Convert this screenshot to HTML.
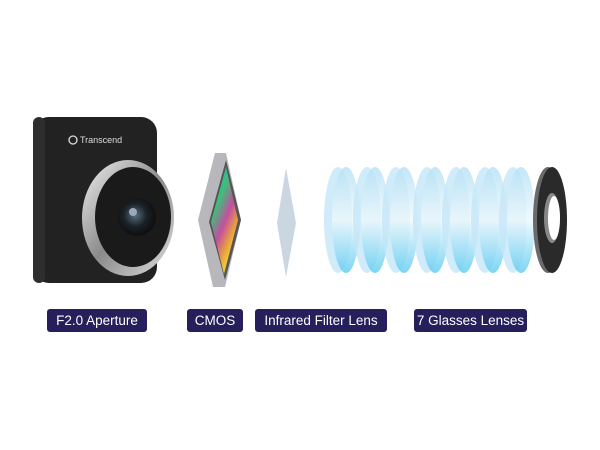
<!DOCTYPE html>
<html><head><meta charset="utf-8"><style>
html,body{margin:0;padding:0;background:#fff;width:600px;height:450px;overflow:hidden}
.lbl{position:absolute;top:309px;height:23px;background:#25205c;color:#fff;border-radius:3px;font-family:"Liberation Sans",sans-serif;font-size:13.5px;line-height:23px;text-align:center}
</style></head><body>
<svg width="600" height="450" style="position:absolute;left:0;top:0">
<defs>
<linearGradient id="cm" x1="0" y1="0" x2="0.6" y2="1">
<stop offset="0" stop-color="#19a8e0"/><stop offset="0.35" stop-color="#3cc07a"/><stop offset="0.6" stop-color="#c34fa0"/><stop offset="0.8" stop-color="#e8a040"/><stop offset="1" stop-color="#f5e82a"/></linearGradient>
<linearGradient id="gl" x1="0" y1="0" x2="0" y2="1">
<stop offset="0" stop-color="#b4e0f5"/><stop offset="0.5" stop-color="#eef8fc"/><stop offset="1" stop-color="#5ccbf0"/></linearGradient>
<radialGradient id="lens" cx="0.45" cy="0.45" r="0.6"><stop offset="0" stop-color="#5a7080"/><stop offset="0.5" stop-color="#1b2228"/><stop offset="1" stop-color="#0a0a0a"/></radialGradient>
<linearGradient id="ring" x1="0" y1="0" x2="1" y2="1"><stop offset="0" stop-color="#f0f0f0"/><stop offset="0.5" stop-color="#8a8a8a"/><stop offset="1" stop-color="#e0e0e0"/></linearGradient>
</defs>
<!-- camera -->
<rect x="33" y="117" width="124" height="166" rx="16" fill="#222"/>
<rect x="33" y="117" width="12" height="166" rx="6" fill="#2e2e2e"/>
<text x="80" y="143" font-family="Liberation Sans" font-size="9" fill="#ddd">Transcend</text>
<circle cx="73" cy="140" r="4" fill="none" stroke="#ddd" stroke-width="1.3"/>
<ellipse cx="128" cy="218" rx="46" ry="58" fill="url(#ring)"/>
<ellipse cx="133" cy="217" rx="38" ry="50" fill="#1a1a1a"/>
<circle cx="137" cy="217" r="19" fill="url(#lens)"/>
<circle cx="133" cy="212" r="4" fill="#9ab"/>
<!-- CMOS -->
<polygon points="215,153 226,153 241,220 225,287 213,287 198,220" fill="#b8b8bc"/>
<polygon points="226,160 241,220 225,280 209,222" fill="#555"/>
<polygon points="226,167 238,220 224,274 211,222" fill="url(#cm)"/>
<!-- IR -->
<polygon points="286,168 296,223 286,277 277,223" fill="#cad7e2"/>
<!-- lenses -->
<g fill-opacity="0.8">
<ellipse cx="338" cy="220" rx="14" ry="53" fill="#c4e6f7"/><ellipse cx="346" cy="220" rx="14" ry="53" fill="url(#gl)"/>
<ellipse cx="367" cy="220" rx="14" ry="53" fill="#c4e6f7"/><ellipse cx="375" cy="220" rx="14" ry="53" fill="url(#gl)"/>
<ellipse cx="396" cy="220" rx="14" ry="53" fill="#c4e6f7"/><ellipse cx="404" cy="220" rx="14" ry="53" fill="url(#gl)"/>
<ellipse cx="427" cy="220" rx="14" ry="53" fill="#c4e6f7"/><ellipse cx="435" cy="220" rx="14" ry="53" fill="url(#gl)"/>
<ellipse cx="456" cy="220" rx="14" ry="53" fill="#c4e6f7"/><ellipse cx="464" cy="220" rx="14" ry="53" fill="url(#gl)"/>
<ellipse cx="485" cy="220" rx="14" ry="53" fill="#c4e6f7"/><ellipse cx="493" cy="220" rx="14" ry="53" fill="url(#gl)"/>
<ellipse cx="513" cy="220" rx="14" ry="53" fill="#c4e6f7"/><ellipse cx="521" cy="220" rx="14" ry="53" fill="url(#gl)"/>
</g>
<ellipse cx="548" cy="220" rx="15" ry="53" fill="#6a6a6a"/>
<ellipse cx="552" cy="220" rx="15" ry="53" fill="#2a2a2a"/>
<ellipse cx="552" cy="218" rx="8" ry="25" fill="#888"/>
<ellipse cx="554" cy="218" rx="6" ry="22" fill="#fff"/>
</svg>
<div class="lbl" style="left:47px;width:100px">F2.0 Aperture</div>
<div class="lbl" style="left:187px;width:56px">CMOS</div>
<div class="lbl" style="left:255px;width:132px">Infrared Filter Lens</div>
<div class="lbl" style="left:414px;width:113px">7 Glasses Lenses</div>
</body></html>
